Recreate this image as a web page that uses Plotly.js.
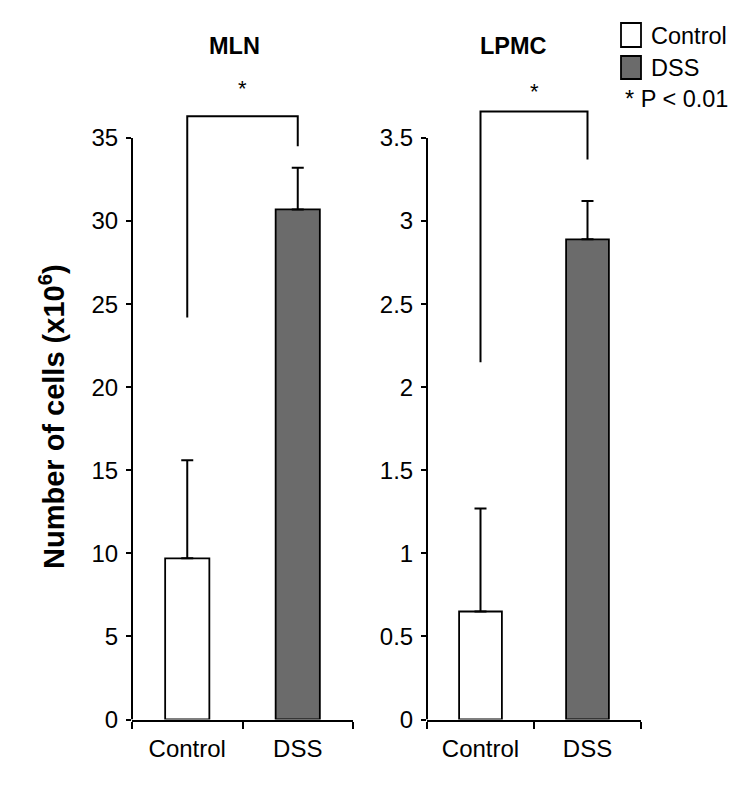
<!DOCTYPE html>
<html>
<head>
<meta charset="utf-8">
<script src="https://cdn.plot.ly/plotly-3.0.1.min.js"></script>
<style>html,body{margin:0;padding:0;background:#fff;}#chart{width:750px;height:785px;}</style>
</head>
<body>
<div id="chart"></div>
<script>
// ---- data ----
const categories = ['Control', 'DSS'];
const mlnMeans = [9.7, 30.7];
const mlnErr = [5.9, 2.5];
const lpmcMeans = [0.65, 2.89];
const lpmcErr = [0.62, 0.23];
const barColors = ['#ffffff', '#6b6b6b'];
const bracketX = ['Control', 'Control', 'DSS', 'DSS'];
const mlnBracketY = [24.2, 36.3, 36.3, 34.5];
const lpmcBracketY = [2.15, 3.66, 3.66, 3.37];
const mlnStarY = 38.0;
const lpmcStarY = 3.78;
const mlnTicks = [0, 5, 10, 15, 20, 25, 30, 35];
const lpmcTicks = [0, 0.5, 1, 1.5, 2, 2.5, 3, 3.5];
const lpmcTickText = ['0', '0.5', '1', '1.5', '2', '2.5', '3', '3.5'];
const panelTitles = ['MLN', 'LPMC'];
const legendLabels = ['Control', 'DSS'];
const sigNote = '* P < 0.01';

const FONT = 'Liberation Sans, Arial, Helvetica, sans-serif';
const W = 750, H = 785;
const px = v => v / W;
const py = v => 1 - v / H;

function barTrace(means, err, xa, ya) {
  return {
    type: 'bar', x: categories, y: means, xaxis: xa, yaxis: ya,
    width: 0.4,
    marker: {color: barColors, line: {color: '#000', width: 1.8}},
    error_y: {type: 'data', symmetric: false, array: err, arrayminus: err.map(() => 0),
              color: '#000', thickness: 2, width: 6},
    showlegend: false, hoverinfo: 'none'
  };
}
function bracketTrace(ys, xa, ya) {
  return {type: 'scatter', mode: 'lines', x: bracketX, y: ys, xaxis: xa, yaxis: ya,
          line: {color: '#000', width: 2}, showlegend: false, hoverinfo: 'none', cliponaxis: false};
}

const data = [
  barTrace(mlnMeans, mlnErr, 'x', 'y'),
  bracketTrace(mlnBracketY, 'x', 'y'),
  barTrace(lpmcMeans, lpmcErr, 'x2', 'y2'),
  bracketTrace(lpmcBracketY, 'x2', 'y2')
];

const yDomain = [py(719.5), py(71.5)];
const tickFont = {family: FONT, size: 24, color: '#000'};

function xAxis(domain, anchor) {
  return {domain: domain, anchor: anchor, type: 'category', range: [-0.5, 1.5],
          showline: true, linecolor: '#000', linewidth: 2, ticks: 'outside', tickson: 'boundaries',
          ticklen: 7, tickwidth: 2, tickcolor: '#000', tickfont: tickFont, ticklabelstandoff: 7,
          showgrid: false, zeroline: false, fixedrange: true};
}
function yAxis(anchor, range, tickvals, ticktext) {
  return {domain: yDomain, anchor: anchor, range: range, tickmode: 'array', tickvals: tickvals,
          ticktext: ticktext, showline: false, ticks: 'outside', ticklen: 5, tickwidth: 2,
          tickcolor: '#000', tickfont: tickFont, ticklabelstandoff: 3,
          showgrid: false, zeroline: false, fixedrange: true};
}

const shapes = [
  {type: 'line', xref: 'x domain', yref: 'y', x0: 0, x1: 0, y0: mlnTicks[0], y1: mlnTicks[mlnTicks.length - 1],
   line: {color: '#000', width: 2}},
  {type: 'line', xref: 'x2 domain', yref: 'y2', x0: 0, x1: 0, y0: lpmcTicks[0], y1: lpmcTicks[lpmcTicks.length - 1],
   line: {color: '#000', width: 2}},
  // legend swatches
  {type: 'rect', xref: 'paper', yref: 'paper', x0: px(621), x1: px(641), y0: py(47), y1: py(23),
   fillcolor: barColors[0], line: {color: '#000', width: 1.8}},
  {type: 'rect', xref: 'paper', yref: 'paper', x0: px(621), x1: px(641), y0: py(79), y1: py(56),
   fillcolor: barColors[1], line: {color: '#000', width: 1.8}}
];

const annFont = {family: FONT, size: 23.5, color: '#000'};
const annotations = [
  {xref: 'paper', yref: 'paper', x: px(234), y: py(46), text: '<b>' + panelTitles[0] + '</b>',
   showarrow: false, font: annFont, xanchor: 'center', yanchor: 'middle'},
  {xref: 'paper', yref: 'paper', x: px(513), y: py(46), text: '<b>' + panelTitles[1] + '</b>',
   showarrow: false, font: annFont, xanchor: 'center', yanchor: 'middle'},
  {xref: 'x', yref: 'y', x: 0.5, y: mlnStarY, text: '*', showarrow: false,
   font: {family: FONT, size: 22, color: '#000'}, yanchor: 'middle'},
  {xref: 'x2', yref: 'y2', x: 0.5, y: lpmcStarY, text: '*', showarrow: false,
   font: {family: FONT, size: 22, color: '#000'}, yanchor: 'middle'},
  {xref: 'paper', yref: 'paper', x: px(52), y: py(417), text: '<b>Number of cells (x10<sup>6</sup>)</b>',
   textangle: -90, showarrow: false, font: {family: FONT, size: 29, color: '#000'},
   xanchor: 'center', yanchor: 'middle'},
  {xref: 'paper', yref: 'paper', x: px(649), y: py(36), text: legendLabels[0], showarrow: false,
   font: annFont, xanchor: 'left', yanchor: 'middle'},
  {xref: 'paper', yref: 'paper', x: px(649), y: py(68), text: legendLabels[1], showarrow: false,
   font: annFont, xanchor: 'left', yanchor: 'middle'},
  {xref: 'paper', yref: 'paper', x: px(623), y: py(99), text: sigNote, showarrow: false,
   font: annFont, xanchor: 'left', yanchor: 'middle'}
];

const layout = {
  width: W, height: H,
  margin: {l: 0, r: 0, t: 0, b: 0},
  paper_bgcolor: '#fff', plot_bgcolor: 'rgba(0,0,0,0)',
  showlegend: false,
  xaxis: xAxis([px(132), px(353)], 'y'),
  yaxis: yAxis('x', [0, 39], mlnTicks, mlnTicks.map(String)),
  xaxis2: xAxis([px(427), px(641)], 'y2'),
  yaxis2: yAxis('x2', [0, 3.9], lpmcTicks, lpmcTickText),
  shapes: shapes,
  annotations: annotations,
  font: {family: FONT, color: '#000'}
};

Plotly.newPlot('chart', data, layout, {displayModeBar: false, staticPlot: true});
</script>
</body>
</html>
